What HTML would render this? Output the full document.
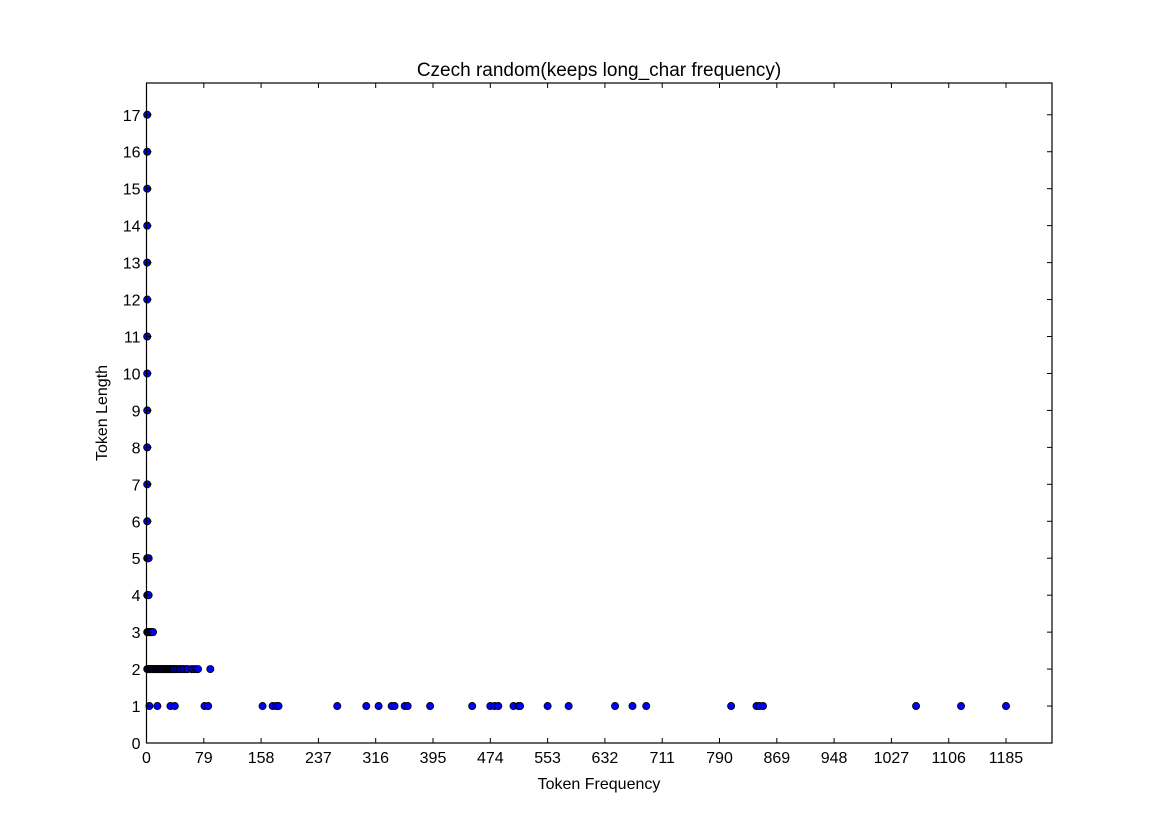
<!DOCTYPE html>
<html><head><meta charset="utf-8"><style>
body{margin:0;background:#fff;}
svg text{font-family:"Liberation Sans","DejaVu Sans",sans-serif;}
</style></head><body>
<svg id="chart" width="1169" height="827" xmlns="http://www.w3.org/2000/svg">
<rect width="1169" height="827" fill="#fff"/>
<text x="599" y="76" font-size="19" text-anchor="middle">Czech random(keeps long_char frequency)</text>
<g id="marks"></g>
<g id="axes"></g>
<text x="599" y="789" font-size="16" text-anchor="middle">Token Frequency</text>
<text transform="translate(107,413) rotate(-90)" font-size="16" text-anchor="middle">Token Length</text>
</svg>
<script>
const xTicks=[0,79,158,237,316,395,474,553,632,711,790,869,948,1027,1106,1185];
const yTicks=[0,1,2,3,4,5,6,7,8,9,10,11,12,13,14,15,16,17];
const len1Freq=[4,15,33,39,80,85,160,174,179,182,263,303,320,338,342,356,360,391,449,474,480,485,506,513,515,553,582,646,670,689,806,841,845,850,1061,1123,1185];
const len2Freq=[1,2,3,4,5,6,7,8,9,10,11,12,13,14,15,16,17,18,19,20,21,22,23,24,25,26,27,28,29,30,31,32,33,34,35,36,37,38,40,42,44,46,48,50,52,55,57,62,65,68,71,88];
const len3Freq=[1,2,3,4,5,6,7,8,9];
const len4Freq=[1,2,3];
const len5Freq=[1,2,3];
const longLengths=[6,7,8,9,10,11,12,13,14,15,16,17];
const longFreq=[1,1,1,1,1,1,1,1,1,1,1,1];

const L=146.5,R=1052,T=83,B=743,XMAX=1248.4,YMAX=17.86;
function sx(v){return L+v/XMAX*(R-L);}
function sy(v){return B-v/YMAX*(B-T);}
const NS="http://www.w3.org/2000/svg";
const marks=document.getElementById('marks');
function pt(f,l){
 const c=document.createElementNS(NS,'circle');
 c.setAttribute('cx',sx(f));c.setAttribute('cy',sy(l));c.setAttribute('r',3.6);
 c.setAttribute('fill','#0000ff');c.setAttribute('stroke','#000');c.setAttribute('stroke-width','0.8');
 
 
 marks.appendChild(c);
}
len1Freq.forEach(f=>pt(f,1));
len2Freq.forEach(f=>pt(f,2));
len3Freq.forEach(f=>pt(f,3));
len4Freq.forEach(f=>pt(f,4));
len5Freq.forEach(f=>pt(f,5));
longLengths.forEach((l,i)=>pt(longFreq[i],l));

const ax=document.getElementById('axes');
let h='<rect x="'+L+'" y="'+T+'" width="'+(R-L)+'" height="'+(B-T)+'" fill="none" stroke="#000" stroke-width="1.2"/>';
xTicks.forEach(v=>{const x=sx(v);
 h+='<line x1="'+x+'" y1="'+B+'" x2="'+x+'" y2="'+(B-5)+'" stroke="#000"/>';
 h+='<line x1="'+x+'" y1="'+T+'" x2="'+x+'" y2="'+(T+5)+'" stroke="#000"/>';
 h+='<text x="'+x+'" y="'+(B+20)+'" font-size="16" text-anchor="middle">'+v+'</text>';});
yTicks.forEach(v=>{const y=sy(v);
 h+='<line x1="'+L+'" y1="'+y+'" x2="'+(L+5)+'" y2="'+y+'" stroke="#000"/>';
 h+='<line x1="'+R+'" y1="'+y+'" x2="'+(R-5)+'" y2="'+y+'" stroke="#000"/>';
 h+='<text x="'+(L-6)+'" y="'+(y+6)+'" font-size="16" text-anchor="end">'+v+'</text>';});
ax.innerHTML=h;
</script>
</body></html>
